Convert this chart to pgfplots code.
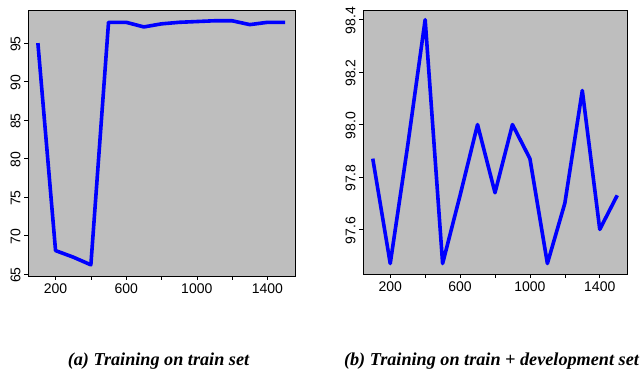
\documentclass[border=0pt]{standalone}
\usepackage{fontspec}
\setmainfont{Liberation Sans}
\newfontfamily\capfont{Liberation Serif}
\usepackage{pgfplots}
\pgfplotsset{compat=1.18}
\definecolor{rgray}{RGB}{190,190,190}
\definecolor{rblue}{RGB}{0,0,255}

\pgfplotsset{
  rpanel/.style={
    scale only axis,
    axis background/.style={fill=rgray},
    axis line style={black, line width=0.6pt},
    tick align=outside,
    xtick pos=lower, ytick pos=left,
    major tick length=4pt,
    tick style={black, line width=0.6pt},
    xmin=44, xmax=1556,
    xtick={200,400,...,1400},
    xticklabels={200,,600,,1000,,1400},
    ticklabel style={font=\fontsize{14}{16}\selectfont},
    yticklabel style={rotate=90, anchor=south, xshift=-1pt},
    /pgf/number format/assume math mode=true,
    clip=false,
  },
  rline/.style={rblue, line width=3.6pt, line join=round, no markers},
}

\begin{document}
\begin{tikzpicture}[x=1pt, y=1pt]
\path (0,0) rectangle (640,372);

% (a) train set
\begin{axis}[rpanel, at={(28pt,96pt)}, anchor=south west,
  width=267pt, height=266pt,
  ymin=64.75, ymax=99.3, ytick={65,70,...,95}]
\addplot[rline] coordinates {
  (100,95.0) (200,68.05) (300,67.2) (400,66.2) (500,97.7)
  (600,97.7) (700,97.1) (800,97.5) (900,97.7) (1000,97.8)
  (1100,97.9) (1200,97.9) (1300,97.4) (1400,97.7) (1500,97.7)
};
\end{axis}

% (b) train + development set
\begin{axis}[rpanel, at={(363pt,98pt)}, anchor=south west,
  width=264pt, height=264pt,
  ymin=97.43, ymax=98.437, ytick={97.6,97.8,98.0,98.2,98.4},
  yticklabel style={/pgf/number format/.cd, fixed, fixed zerofill, precision=1}]
\addplot[rline] coordinates {
  (100,97.87) (200,97.47) (300,97.92) (400,98.40) (500,97.47)
  (600,97.73) (700,98.00) (800,97.74) (900,98.00) (1000,97.87)
  (1100,97.47) (1200,97.70) (1300,98.13) (1400,97.60) (1500,97.73)
};
\end{axis}

\node[anchor=base, inner sep=0] at (158.5,6)
  {\capfont\fontsize{18.2}{20}\selectfont\bfseries\itshape (a) Training on train set};
\node[anchor=base, inner sep=0] at (491.5,6)
  {\capfont\fontsize{18.2}{20}\selectfont\bfseries\itshape (b) Training on train + development set};
\end{tikzpicture}
\end{document}
